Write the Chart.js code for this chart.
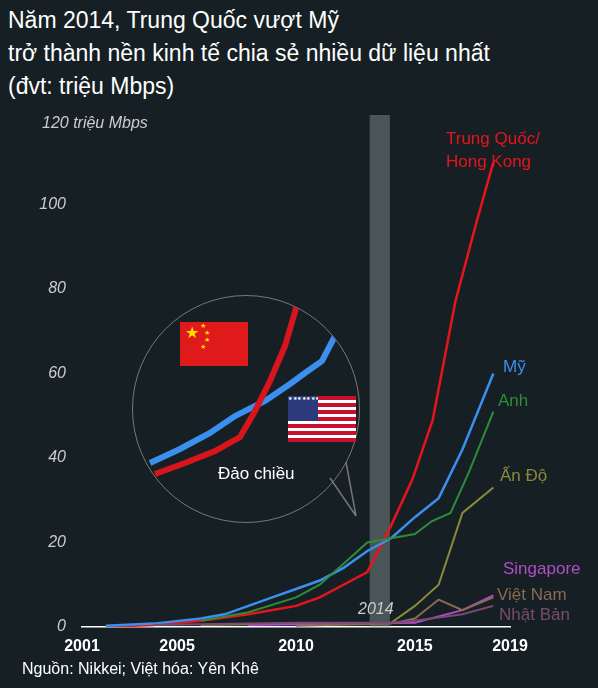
<!DOCTYPE html><html><head><meta charset="utf-8">
<script src="https://cdn.jsdelivr.net/npm/chart.js@4"></script>
<style>
body{margin:0;width:598px;height:688px;background:#162024;font-family:"Liberation Sans",Arial,sans-serif;color:#fff;position:relative;overflow:hidden}
.t{position:absolute;white-space:nowrap}
#main{position:absolute;left:0;top:0}
#inset{position:absolute;left:132px;top:295px;width:226px;height:226px;border-radius:50%;border:1.5px solid #777;overflow:hidden}
</style></head><body>
<div class="t" style="left:8px;top:4px;font-size:23px;line-height:33px">Năm 2014, Trung Quốc vượt Mỹ<br>trở thành nền kinh tế chia sẻ nhiều dữ liệu nhất<br>(đvt: triệu Mbps)</div>
<canvas id="main" width="598" height="688"></canvas>
<svg style="position:absolute;left:0;top:0" width="598" height="688"><path d="M330,478 L356,516 L346,462" fill="#162024" stroke="#777" stroke-width="1.5"/></svg>
<div id="inset"><canvas id="ic" width="226" height="226"></canvas></div>
<div class="t" style="left:180px;top:322px;width:68px;height:44px;background:#e01a1a"><span style="position:absolute;left:5px;top:1px;color:#ffde00;font-size:16px">★</span><span style="position:absolute;left:20px;top:0;color:#ffde00;font-size:7px;line-height:7px">★<br>&nbsp;&nbsp;★<br>&nbsp;&nbsp;★<br>★</span></div>
<div class="t" style="left:288px;top:396px;width:68px;height:46px;background:repeating-linear-gradient(#c8102e 0 3.54px,#fff 3.54px 7.08px)"><div style="position:absolute;left:0;top:0;width:30px;height:25px;background:#2b3a7a;color:#fff;font-size:5px;line-height:5px;overflow:hidden;letter-spacing:0.5px">★★★★★★★★★★★★★★★★★★★★★★★★★★★★★★★★★★★★★★★★★★★★★★★★★★★★★★★★★★★★★★</div></div>
<div class="t" style="left:218px;top:464px;font-size:17px">Đảo chiều</div>
<div class="t" style="left:42px;top:114px;font-size:16px;font-style:italic;color:#ccc">120 triệu Mbps</div>
<div class="t" style="left:446px;top:127px;font-size:17px;color:#e8141c;line-height:23px">Trung Quốc/<br>Hong Kong</div>
<div class="t" style="left:503px;top:357px;font-size:17px;color:#3b8fef">Mỹ</div>
<div class="t" style="left:498px;top:391px;font-size:17px;color:#2e8b3a">Anh</div>
<div class="t" style="left:500px;top:466px;font-size:17px;color:#8a8a3c">Ấn Độ</div>
<div class="t" style="left:503px;top:559px;font-size:17px;color:#b04cc8">Singapore</div>
<div class="t" style="left:497px;top:585px;font-size:17px;color:#8a6a52">Việt Nam</div>
<div class="t" style="left:499px;top:605px;font-size:17px;color:#7a4a72">Nhật Bản</div>
<div class="t" style="left:358px;top:600px;font-size:16px;font-style:italic;color:#ccc">2014</div>
<div class="t" style="left:22px;top:660px;font-size:16px">Nguồn: Nikkei; Việt hóa: Yên Khê</div>
<script>
const xTicks=[2001,2005,2010,2015,2019];
const yTicks=[0,20,40,60,80,100,120];
const china=[[2002,0],[2004,0.5],[2006,1.5],[2008,3],[2010,5],[2011,7],[2012,10],[2013,13],[2014,24],[2014.9,35],[2015.75,49],[2016.7,77],[2017.6,96],[2018.3,110]];
const usa=[[2002,0.3],[2004,0.8],[2006,2],[2007,3],[2008,5],[2009,7],[2010,9],[2011,11],[2012,14],[2013,18],[2014,21],[2015,26],[2016,30.5],[2017,42],[2018.3,60]];
const uk=[[2006,1.5],[2008,3.5],[2010,7],[2011,10],[2012.2,16],[2013,20],[2014,21],[2015,22],[2015.7,25],[2016.5,27],[2017.3,37],[2018.3,51]];
const india=[[2006,0.5],[2010,0.8],[2014,1],[2015,5],[2016,10],[2017,27],[2018.3,33]];
const singapore=[[2008,0.5],[2012,0.8],[2015,1],[2017,4],[2018.3,7.5]];
const vietnam=[[2010,0.3],[2014,0.8],[2015,2],[2016,6.5],[2017,4],[2018.3,7]];
const japan=[[2004,0.5],[2010,1],[2014,1],[2015,1.5],[2017,3],[2018.3,5]];
const insetBlue=[[1.5,3.8],[4.5,5.2],[7.5,6.8],[10,8.5],[13,10],[15.5,11.7],[17,12.8],[18.7,14],[20,16.5],[20.8,18.7]];
const insetRed=[[2,2.7],[5,3.8],[8,5],[10.5,6.4],[12,9],[13.5,12],[15,15.5],[16.7,21.3]];
const band=[2013.1,2013.95];
const pts=a=>a.map(([x,y])=>({x,y}));
const ds=(d,c,w)=>({data:pts(d),borderColor:c,borderWidth:w,pointRadius:0,tension:0,fill:false});
const bandPlugin={id:'band',beforeDatasetsDraw(c){const{ctx,scales:{x},chartArea:a}=c;ctx.save();ctx.fillStyle='rgba(150,165,165,0.4)';ctx.fillRect(x.getPixelForValue(band[0]),a.top-5,x.getPixelForValue(band[1])-x.getPixelForValue(band[0]),a.bottom-a.top+5);ctx.restore();}};
new Chart(document.getElementById('main'),{type:'line',
data:{datasets:[ds(japan,'#7a4a72',2),ds(vietnam,'#8a6a52',2),ds(singapore,'#b04cc8',2),ds(india,'#8a8a3c',2),ds(uk,'#2e8b3a',2),ds(usa,'#3b8fef',2.5),ds(china,'#e8141c',2.5)]},
options:{responsive:false,animation:false,plugins:{legend:{display:false},tooltip:{enabled:false}},
layout:{padding:{top:120,right:88,left:0,bottom:0}},
scales:{x:{type:'linear',min:2001,max:2019,afterBuildTicks(s){s.ticks=xTicks.map(v=>({value:v}))},afterFit(s){s.height=61},
grid:{display:false,drawTicks:true},border:{color:'#fff',width:1.5},
ticks:{color:'#fff',font:{size:16,weight:'bold',family:'Liberation Sans'},maxRotation:0,padding:2,callback:v=>String(v)}},
y:{min:0,max:120,afterBuildTicks(s){s.ticks=yTicks.map(v=>({value:v}))},afterFit(s){s.width=82},
grid:{display:false},border:{display:false},
ticks:{color:'#ccc',font:{size:16,style:'italic',family:'Liberation Sans'},callback:v=>v===120?'':v,padding:8}}}},
plugins:[bandPlugin]});
new Chart(document.getElementById('ic'),{type:'line',
data:{datasets:[ds(insetRed,'#d8141c',6),ds(insetBlue,'#3b8fef',6)]},
options:{responsive:false,animation:false,plugins:{legend:{display:false},tooltip:{enabled:false}},layout:{padding:0},
scales:{x:{type:'linear',min:-0.2,max:22.4,display:false},y:{min:-2.1,max:20.5,display:false}}}});
</script></body></html>
